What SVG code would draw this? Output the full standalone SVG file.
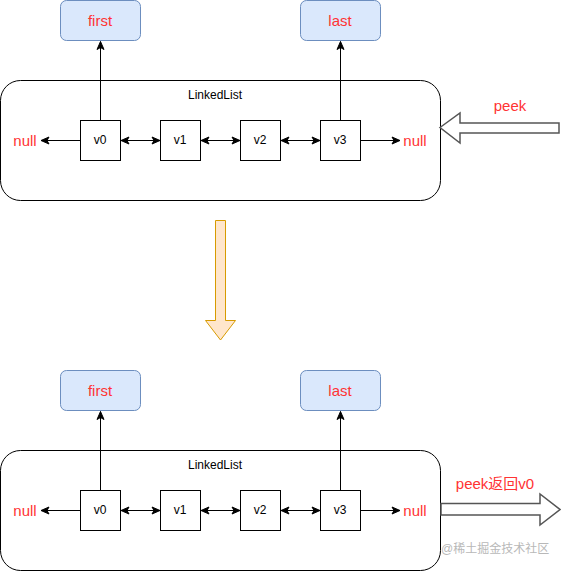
<svg xmlns="http://www.w3.org/2000/svg" width="561" height="571" viewBox="0 0 561 571">
<defs>
<style>
.ptr{fill:#dae8fc;stroke:#6c8ebf;stroke-width:1}
.cont{fill:#ffffff;stroke:#000;stroke-width:1}
.node{fill:#ffffff;stroke:#000;stroke-width:1}
.red{font-family:"Liberation Sans",Arial,sans-serif;font-size:15px;fill:#ff3333;text-anchor:middle;dominant-baseline:central}
.lbl{font-family:"Liberation Sans",Arial,sans-serif;font-size:12px;fill:#000;text-anchor:middle;dominant-baseline:central}
.edge{fill:none;stroke:#000;stroke-width:1}
.block{fill:#ffffff;stroke:#555;stroke-width:1.5}
.down{fill:#ffe6cc;stroke:#d79b00;stroke-width:1}
.wm{font-family:"Liberation Sans","Noto Sans CJK SC",sans-serif;font-size:12px;fill:#b8b8b8}
</style>
<marker id="ah" markerWidth="10" markerHeight="10" refX="9" refY="5" orient="auto" markerUnits="userSpaceOnUse">
<path d="M1,1.5 L9,5 L1,8.5 L3,5 Z" fill="#000" stroke="#000" stroke-width="1"/>
</marker>
<marker id="as" markerWidth="10" markerHeight="10" refX="1" refY="5" orient="auto" markerUnits="userSpaceOnUse">
<path d="M9,1.5 L1,5 L9,8.5 L7,5 Z" fill="#000" stroke="#000" stroke-width="1"/>
</marker>
</defs>
<rect width="561" height="571" fill="#ffffff"/>

<!-- Top state -->
<g id="top-container"><rect class="cont" x="0.5" y="80.5" width="440" height="120" rx="20"/><text class="lbl" x="215" y="95">LinkedList</text></g>
<g id="top-first"><rect class="ptr" x="60.5" y="0.5" width="80" height="40" rx="6"/><text class="red" x="100" y="20">first</text></g>
<g id="top-last"><rect class="ptr" x="300.5" y="0.5" width="80" height="40" rx="6"/><text class="red" x="340" y="20">last</text></g>
<g id="top-v0"><rect class="node" x="80.5" y="120.5" width="40" height="40"/><text class="lbl" x="100" y="140">v0</text></g>
<g id="top-v1"><rect class="node" x="160.5" y="120.5" width="40" height="40"/><text class="lbl" x="180" y="140">v1</text></g>
<g id="top-v2"><rect class="node" x="240.5" y="120.5" width="40" height="40"/><text class="lbl" x="260" y="140">v2</text></g>
<g id="top-v3"><rect class="node" x="320.5" y="120.5" width="40" height="40"/><text class="lbl" x="340" y="140">v3</text></g>
<g id="top-null-left"><text class="red" x="25" y="140">null</text></g>
<g id="top-null-right"><text class="red" x="415" y="140">null</text></g>
<g id="top-peek"><path class="block" d="M440,127.5 L460,113 L460,123 L559,123 L559,133 L460,133 L460,143 Z"/><text class="red" x="510" y="105">peek</text></g>

<!-- Transition arrow -->
<g id="transition"><path class="down" d="M215.5,220.5 L225.5,220.5 L225.5,320.5 L235.5,320.5 L220.5,340 L205.5,320.5 L215.5,320.5 Z"/></g>

<!-- Bottom state -->
<g id="bot-container"><rect class="cont" x="0.5" y="450.5" width="440" height="120" rx="20"/><text class="lbl" x="215" y="465">LinkedList</text></g>
<g id="bot-first"><rect class="ptr" x="60.5" y="370.5" width="80" height="40" rx="6"/><text class="red" x="100" y="390">first</text></g>
<g id="bot-last"><rect class="ptr" x="300.5" y="370.5" width="80" height="40" rx="6"/><text class="red" x="340" y="390">last</text></g>
<g id="bot-v0"><rect class="node" x="80.5" y="490.5" width="40" height="40"/><text class="lbl" x="100" y="510">v0</text></g>
<g id="bot-v1"><rect class="node" x="160.5" y="490.5" width="40" height="40"/><text class="lbl" x="180" y="510">v1</text></g>
<g id="bot-v2"><rect class="node" x="240.5" y="490.5" width="40" height="40"/><text class="lbl" x="260" y="510">v2</text></g>
<g id="bot-v3"><rect class="node" x="320.5" y="490.5" width="40" height="40"/><text class="lbl" x="340" y="510">v3</text></g>
<g id="bot-null-left"><text class="red" x="25" y="510">null</text></g>
<g id="bot-null-right"><text class="red" x="415" y="510">null</text></g>
<g id="bot-peek"><path class="block" d="M441,503.5 L540,503.5 L540,494 L560,509.5 L540,525 L540,515 L441,515 Z"/><text class="red" x="495" y="483" style="font-family:'Liberation Sans','Noto Sans CJK SC',sans-serif">peek返回v0</text></g>

<g id="watermark"><text class="wm" x="441" y="553">@稀土掘金技术社区</text></g>

<!-- Connectors -->
<g id="connectors">
<line class="edge" x1="100.5" y1="120.5" x2="100.5" y2="41.5" marker-end="url(#ah)"/>
<line class="edge" x1="340.5" y1="120.5" x2="340.5" y2="41.5" marker-end="url(#ah)"/>
<line class="edge" x1="80.5" y1="140.5" x2="41" y2="140.5" marker-end="url(#ah)"/>
<line class="edge" x1="121" y1="140.5" x2="160" y2="140.5" marker-start="url(#as)" marker-end="url(#ah)"/>
<line class="edge" x1="201" y1="140.5" x2="240" y2="140.5" marker-start="url(#as)" marker-end="url(#ah)"/>
<line class="edge" x1="281" y1="140.5" x2="320" y2="140.5" marker-start="url(#as)" marker-end="url(#ah)"/>
<line class="edge" x1="360.5" y1="140.5" x2="400" y2="140.5" marker-end="url(#ah)"/>

<line class="edge" x1="100.5" y1="490.5" x2="100.5" y2="411.5" marker-end="url(#ah)"/>
<line class="edge" x1="340.5" y1="490.5" x2="340.5" y2="411.5" marker-end="url(#ah)"/>
<line class="edge" x1="80.5" y1="510.5" x2="41" y2="510.5" marker-end="url(#ah)"/>
<line class="edge" x1="121" y1="510.5" x2="160" y2="510.5" marker-start="url(#as)" marker-end="url(#ah)"/>
<line class="edge" x1="201" y1="510.5" x2="240" y2="510.5" marker-start="url(#as)" marker-end="url(#ah)"/>
<line class="edge" x1="281" y1="510.5" x2="320" y2="510.5" marker-start="url(#as)" marker-end="url(#ah)"/>
<line class="edge" x1="360.5" y1="510.5" x2="400" y2="510.5" marker-end="url(#ah)"/>
</g>
</svg>
